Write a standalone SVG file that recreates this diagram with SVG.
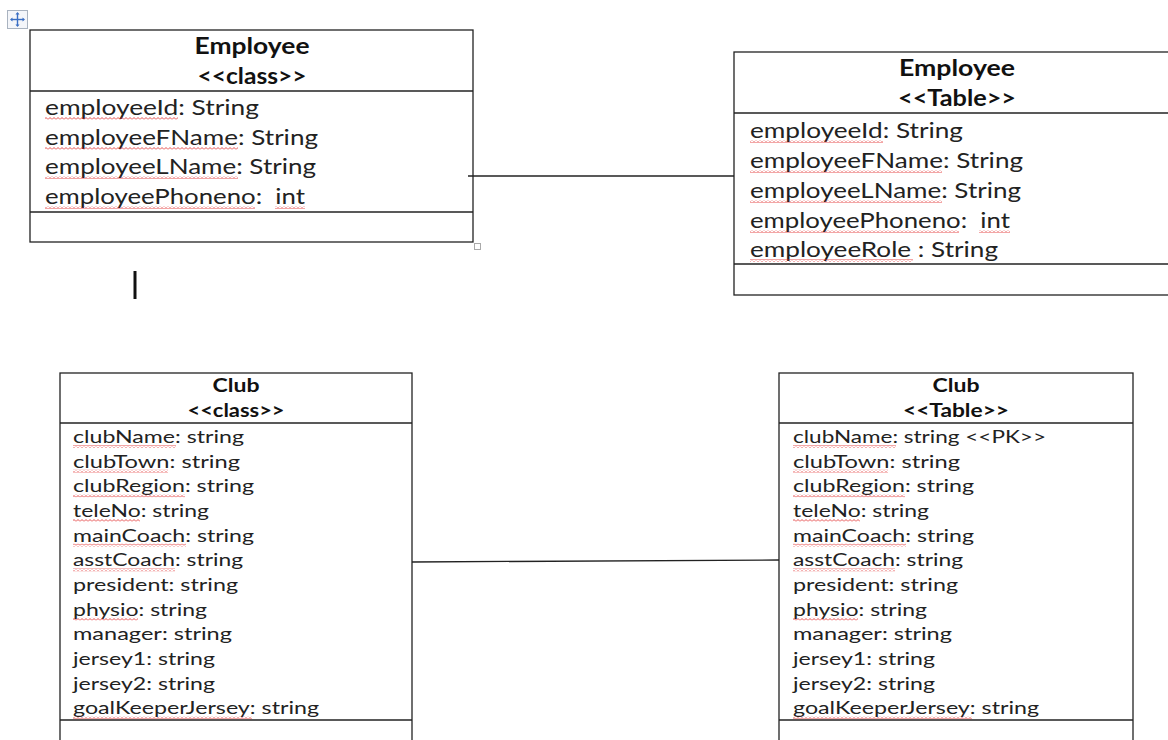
<svg xmlns="http://www.w3.org/2000/svg" width="1168" height="740" viewBox="0 0 1168 740">
<defs>
<pattern id="wavy" patternUnits="userSpaceOnUse" width="4" height="3">
<polyline points="0,2.5 2,0.5 4,2.5" fill="none" stroke="#e02020" stroke-width="0.8"/>
</pattern>
<style>
.box{fill:#fff;stroke:#222;stroke-width:1.3}
.div{stroke:#222;stroke-width:1.3}
.h{font-family:Lato,"Open Sans","Liberation Sans",sans-serif;font-weight:bold;fill:#111;text-anchor:middle}
.a{font-family:Lato,"Open Sans","Liberation Sans",sans-serif;fill:#222}
.e{font-size:22px}
.c{font-size:18px}
.sq{fill:url(#wavy)}
.conn{stroke:#222;stroke-width:1.3;fill:none}
</style>
</defs>
<rect width="1168" height="740" fill="#fff"/>

<!-- table move handle -->
<g id="handle">
<rect x="7.5" y="10.5" width="20" height="18" fill="#f4f6fa" stroke="#a9b3c0"/>
<g stroke="#3a6fc4" stroke-width="1.4" fill="#3a6fc4">
<line x1="11" y1="19.5" x2="24" y2="19.5"/>
<line x1="17.5" y1="13" x2="17.5" y2="26"/>
<polygon points="10,19.5 12.5,17.5 12.5,21.5" stroke="none"/>
<polygon points="25,19.5 22.5,17.5 22.5,21.5" stroke="none"/>
<polygon points="17.5,12 15.5,14.5 19.5,14.5" stroke="none"/>
<polygon points="17.5,27 15.5,24.5 19.5,24.5" stroke="none"/>
</g>
</g>

<g id="employee-class">
<rect class="box" x="30" y="30" width="443" height="212"/>
<line class="div" x1="30" y1="91" x2="473" y2="91"/>
<line class="div" x1="30" y1="212" x2="473" y2="212"/>
<text class="h e" x="252" y="54" textLength="115" lengthAdjust="spacingAndGlyphs">Employee</text>
<text class="h e" x="252" y="84" textLength="109" lengthAdjust="spacingAndGlyphs">&lt;&lt;class&gt;&gt;</text>
<text class="a e" x="45" y="115" textLength="214" lengthAdjust="spacingAndGlyphs">employeeId: String</text>
<text class="a e" x="45" y="145" textLength="273" lengthAdjust="spacingAndGlyphs">employeeFName: String</text>
<text class="a e" x="45" y="174" textLength="271" lengthAdjust="spacingAndGlyphs">employeeLName: String</text>
<text class="a e" x="45" y="204" textLength="260" lengthAdjust="spacingAndGlyphs">employeePhoneno:&#160; int</text>
<rect class="sq" x="45" y="117" width="133" height="3"/>
<rect class="sq" x="45" y="147" width="193" height="3"/>
<rect class="sq" x="45" y="176" width="193" height="3"/>
<rect class="sq" x="45" y="206" width="210" height="3"/>
<rect class="sq" x="275" y="206" width="30" height="3"/>
<rect x="474.5" y="243.5" width="6" height="6" fill="#fff" stroke="#aaa"/>
</g>

<line x1="135" y1="271" x2="135" y2="299" stroke="#111" stroke-width="3"/>

<g id="employee-table">
<rect class="box" x="734" y="52" width="450" height="243"/>
<line class="div" x1="734" y1="113" x2="1168" y2="113"/>
<line class="div" x1="734" y1="264" x2="1168" y2="264"/>
<text class="h e" x="957" y="76" textLength="116" lengthAdjust="spacingAndGlyphs">Employee</text>
<text class="h e" x="957" y="106" textLength="118" lengthAdjust="spacingAndGlyphs">&lt;&lt;Table&gt;&gt;</text>
<text class="a e" x="750" y="138" textLength="213" lengthAdjust="spacingAndGlyphs">employeeId: String</text>
<text class="a e" x="750" y="168" textLength="273" lengthAdjust="spacingAndGlyphs">employeeFName: String</text>
<text class="a e" x="750" y="198" textLength="271" lengthAdjust="spacingAndGlyphs">employeeLName: String</text>
<text class="a e" x="750" y="228" textLength="260" lengthAdjust="spacingAndGlyphs">employeePhoneno:&#160; int</text>
<text class="a e" x="750" y="257" textLength="248" lengthAdjust="spacingAndGlyphs">employeeRole : String</text>
<rect class="sq" x="750" y="140" width="133" height="3"/>
<rect class="sq" x="750" y="170" width="192" height="3"/>
<rect class="sq" x="750" y="200" width="192" height="3"/>
<rect class="sq" x="750" y="230" width="209" height="3"/>
<rect class="sq" x="979" y="230" width="31" height="3"/>
<rect class="sq" x="750" y="259" width="163" height="3"/>
</g>

<g id="club-class">
<rect class="box" x="60" y="373" width="352" height="380"/>
<line class="div" x1="60" y1="423" x2="412" y2="423"/>
<line class="div" x1="60" y1="720" x2="412" y2="720"/>
<text class="h c" x="236" y="392" textLength="47" lengthAdjust="spacingAndGlyphs">Club</text>
<text class="h c" x="236" y="417" textLength="97" lengthAdjust="spacingAndGlyphs">&lt;&lt;class&gt;&gt;</text>
<text class="a c" x="73" y="443" textLength="171" lengthAdjust="spacingAndGlyphs">clubName: string</text>
<text class="a c" x="73" y="467.7" textLength="167" lengthAdjust="spacingAndGlyphs">clubTown: string</text>
<text class="a c" x="73" y="492.3" textLength="181" lengthAdjust="spacingAndGlyphs">clubRegion: string</text>
<text class="a c" x="73" y="517" textLength="136" lengthAdjust="spacingAndGlyphs">teleNo: string</text>
<text class="a c" x="73" y="541.7" textLength="181" lengthAdjust="spacingAndGlyphs">mainCoach: string</text>
<text class="a c" x="73" y="566.3" textLength="170" lengthAdjust="spacingAndGlyphs">asstCoach: string</text>
<text class="a c" x="73" y="591" textLength="165" lengthAdjust="spacingAndGlyphs">president: string</text>
<text class="a c" x="73" y="615.7" textLength="134" lengthAdjust="spacingAndGlyphs">physio: string</text>
<text class="a c" x="73" y="640.3" textLength="159" lengthAdjust="spacingAndGlyphs">manager: string</text>
<text class="a c" x="73" y="665" textLength="142" lengthAdjust="spacingAndGlyphs">jersey1: string</text>
<text class="a c" x="73" y="689.7" textLength="142" lengthAdjust="spacingAndGlyphs">jersey2: string</text>
<text class="a c" x="73" y="714.3" textLength="246" lengthAdjust="spacingAndGlyphs">goalKeeperJersey: string</text>
<rect class="sq" x="73" y="445" width="103" height="3"/>
<rect class="sq" x="73" y="469.7" width="95" height="3"/>
<rect class="sq" x="73" y="494.3" width="112" height="3"/>
<rect class="sq" x="73" y="519" width="67" height="3"/>
<rect class="sq" x="73" y="543.7" width="113" height="3"/>
<rect class="sq" x="73" y="568.3" width="102" height="3"/>
<rect class="sq" x="73" y="617.7" width="65" height="3"/>
<rect class="sq" x="73" y="716.3" width="179" height="3"/>
</g>

<g id="club-table">
<rect class="box" x="779" y="373" width="354" height="380"/>
<line class="div" x1="779" y1="423" x2="1133" y2="423"/>
<line class="div" x1="779" y1="720" x2="1133" y2="720"/>
<text class="h c" x="956" y="392" textLength="47" lengthAdjust="spacingAndGlyphs">Club</text>
<text class="h c" x="956" y="417" textLength="106" lengthAdjust="spacingAndGlyphs">&lt;&lt;Table&gt;&gt;</text>
<text class="a c" x="793" y="443" textLength="253" lengthAdjust="spacingAndGlyphs">clubName: string &lt;&lt;PK&gt;&gt;</text>
<text class="a c" x="793" y="467.7" textLength="167" lengthAdjust="spacingAndGlyphs">clubTown: string</text>
<text class="a c" x="793" y="492.3" textLength="181" lengthAdjust="spacingAndGlyphs">clubRegion: string</text>
<text class="a c" x="793" y="517" textLength="136" lengthAdjust="spacingAndGlyphs">teleNo: string</text>
<text class="a c" x="793" y="541.7" textLength="181" lengthAdjust="spacingAndGlyphs">mainCoach: string</text>
<text class="a c" x="793" y="566.3" textLength="170" lengthAdjust="spacingAndGlyphs">asstCoach: string</text>
<text class="a c" x="793" y="591" textLength="165" lengthAdjust="spacingAndGlyphs">president: string</text>
<text class="a c" x="793" y="615.7" textLength="134" lengthAdjust="spacingAndGlyphs">physio: string</text>
<text class="a c" x="793" y="640.3" textLength="159" lengthAdjust="spacingAndGlyphs">manager: string</text>
<text class="a c" x="793" y="665" textLength="142" lengthAdjust="spacingAndGlyphs">jersey1: string</text>
<text class="a c" x="793" y="689.7" textLength="142" lengthAdjust="spacingAndGlyphs">jersey2: string</text>
<text class="a c" x="793" y="714.3" textLength="246" lengthAdjust="spacingAndGlyphs">goalKeeperJersey: string</text>
<rect class="sq" x="793" y="445" width="103" height="3"/>
<rect class="sq" x="793" y="469.7" width="95" height="3"/>
<rect class="sq" x="793" y="494.3" width="112" height="3"/>
<rect class="sq" x="793" y="519" width="67" height="3"/>
<rect class="sq" x="793" y="543.7" width="113" height="3"/>
<rect class="sq" x="793" y="568.3" width="102" height="3"/>
<rect class="sq" x="793" y="617.7" width="65" height="3"/>
<rect class="sq" x="793" y="716.3" width="179" height="3"/>
</g>

<g id="connectors">
<line class="conn" x1="468" y1="176" x2="734" y2="176"/>
<line class="conn" x1="412" y1="562" x2="779" y2="560" stroke="#444"/>
</g>
</svg>
